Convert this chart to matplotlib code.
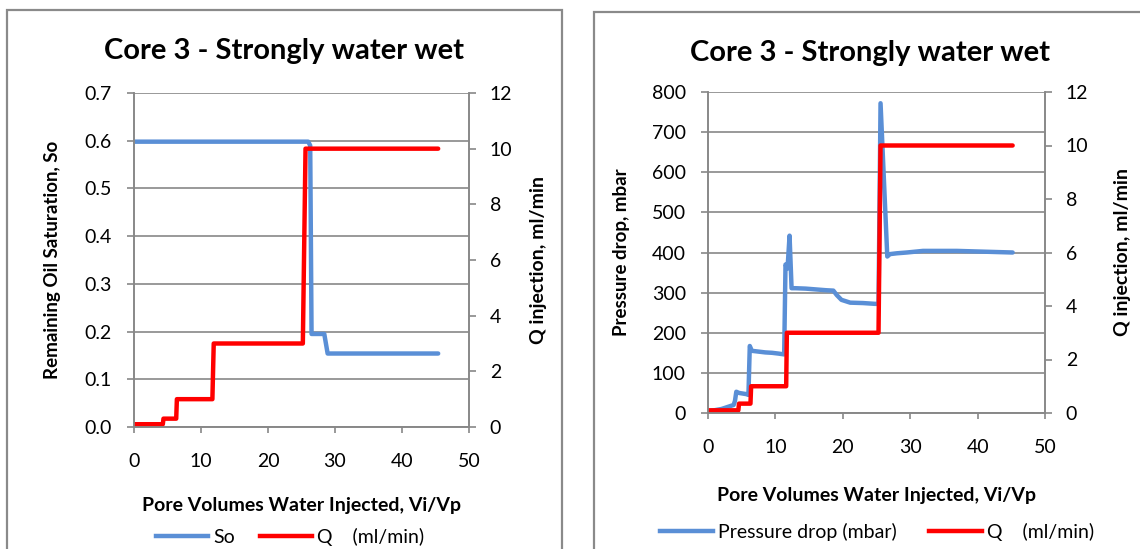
import matplotlib
matplotlib.use("Agg")
import matplotlib.pyplot as plt
from matplotlib.lines import Line2D
from matplotlib.patches import Rectangle

plt.rcParams['font.family'] = ['Lato', 'DejaVu Sans']

# Core 3 flooding data
pv_so = [0, 26.0, 26.3, 26.5, 28.4, 28.9, 45.4]
so = [0.598, 0.598, 0.59, 0.195, 0.195, 0.154, 0.154]

pv_q1 = [0, 4.3, 4.4, 6.3, 6.4, 11.7, 11.9, 25.2, 25.6, 45.4]
q1 = [0.1, 0.1, 0.3, 0.3, 1.0, 1.0, 3.0, 3.0, 10.0, 10.0]

pv_dp = [0, 2.0, 3.8, 4.0, 4.2, 4.6, 5.7, 6.0, 6.2, 6.5, 7.5, 8.5, 9.5,
         10.5, 11.3, 11.5, 11.8, 12.1, 12.4, 13.0, 14.5, 16.0, 17.5, 18.6,
         19.1, 19.8, 21.1, 23.0, 24.8, 25.3, 25.6, 26.6, 27.0, 28.0, 29.5,
         31.9, 36.9, 45.2]
dp = [4, 10, 20, 30, 53, 50, 47, 45, 167, 155, 153, 151, 150,
      148, 146, 370, 360, 442, 311, 311, 310, 308, 306, 305,
      294, 282, 275, 274, 272, 272, 772, 390, 396, 398, 400,
      404, 404, 400]

pv_q2 = [0, 4.5, 4.6, 6.3, 6.4, 11.6, 11.7, 25.3, 25.6, 45.2]
q2 = [0.1, 0.1, 0.35, 0.35, 1.0, 1.0, 3.0, 3.0, 10.0, 10.0]

BLUE = '#5A8FD6'
RED = '#FF0000'
GREY = '#888888'
W, H = 1140, 549


def px_axes(fig, x0, y0, x1, y1):
    return fig.add_axes([x0 / W, 1 - y1 / H, (x1 - x0) / W, (y1 - y0) / H])


def style_axes(ax, ax2, ylim, yticks, ylabel, yfmt, xlab_y, ylab_x, rlab_x):
    ax.set_xlim(0, 50)
    ax.set_xticks(range(0, 51, 10))
    ax.set_ylim(*ylim)
    ax.set_yticks(yticks)
    ax.set_yticklabels([yfmt.format(v) for v in yticks])
    ax2.set_ylim(0, 12)
    ax2.set_yticks(range(0, 13, 2))
    ax.grid(axis='y', color=GREY, linewidth=1.2)
    ax.set_axisbelow(True)
    for a in (ax, ax2):
        a.spines['top'].set_visible(False)
        for s in ('left', 'right', 'bottom'):
            a.spines[s].set_color(GREY)
            a.spines[s].set_linewidth(1.2)
    ax.tick_params(axis='x', direction='out', length=4, width=1.2, color=GREY,
                   pad=15, labelsize=14)
    ax.tick_params(axis='y', direction='out', length=5, width=1.2, color=GREY,
                   pad=11, labelsize=14)
    ax2.tick_params(axis='y', direction='out', length=5, width=1.2, color=GREY,
                    pad=10, labelsize=14)
    ax.set_xlabel('Pore Volumes Water Injected, Vi/Vp', fontsize=14,
                  fontweight='bold', va='center')
    ax.xaxis.set_label_coords(0.5, xlab_y)
    ax.set_ylabel(ylabel, fontsize=13.5, fontweight='bold', va='center')
    ax.yaxis.set_label_coords(ylab_x, 0.5)
    ax2.set_ylabel('Q injection, ml/min', fontsize=14, fontweight='bold',
                   va='center', rotation=90)
    ax2.yaxis.set_label_coords(rlab_x, 0.5)


def add_legend(fig, labels, center, colspace):
    fig.legend([Line2D([], [], color=BLUE, linewidth=3.2),
                Line2D([], [], color=RED, linewidth=3.2)],
               labels, loc='center', bbox_to_anchor=center, ncol=2,
               frameon=False, fontsize=14, handlelength=2.7,
               handletextpad=0.25, columnspacing=colspace, borderpad=0)


fig = plt.figure(figsize=(W / 100, H / 100), dpi=100)

# panel frames
fig.patches.append(Rectangle((7 / W, -0.1), (562 - 7) / W, 1.1 - 10 / H,
                             transform=fig.transFigure, fill=False,
                             edgecolor='#8A8A8A', linewidth=1.6))
fig.patches.append(Rectangle((594 / W, -0.1), 0.6, 1.1 - 12 / H,
                             transform=fig.transFigure, fill=False,
                             edgecolor='#8A8A8A', linewidth=1.6))

# left chart: remaining oil saturation
ax1 = px_axes(fig, 134, 93, 469, 427)
ax1b = ax1.twinx()
ax1.plot(pv_so, so, color=BLUE, linewidth=3.2, solid_capstyle='round',
         solid_joinstyle='round')
ax1b.plot(pv_q1, q1, color=RED, linewidth=3.2, solid_capstyle='round',
          solid_joinstyle='round')
style_axes(ax1, ax1b, (0, 0.7), [0.0, 0.1, 0.2, 0.3, 0.4, 0.5, 0.6, 0.7],
           'Remaining Oil Saturation, So', '{:.1f}',
           -(505 - 427) / 334, -0.242, 1.206)
fig.text(284 / W, 1 - 51 / H, 'Core 3 - Strongly water wet', fontsize=21,
         fontweight='bold', ha='center', va='center')
add_legend(fig, ['So', 'Q    (ml/min)'], (290 / W, 1 - 537 / H), 1.3)

# right chart: pressure drop
ax2 = px_axes(fig, 708, 92, 1045, 413)
ax2b = ax2.twinx()
ax2.plot(pv_dp, dp, color=BLUE, linewidth=3.2, solid_capstyle='round',
         solid_joinstyle='round')
ax2b.plot(pv_q2, q2, color=RED, linewidth=3.2, solid_capstyle='round',
          solid_joinstyle='round')
style_axes(ax2, ax2b, (0, 800), list(range(0, 801, 100)),
           'Pressure drop, mbar', '{:d}',
           -(495 - 413) / 321, -0.258, 1.231)
fig.text(870 / W, 1 - 53 / H, 'Core 3 - Strongly water wet', fontsize=21,
         fontweight='bold', ha='center', va='center')
add_legend(fig, ['Pressure drop (mbar)', 'Q    (ml/min)'],
           (877 / W, 1 - 532 / H), 1.7)

fig.savefig('out.png', dpi=100)
